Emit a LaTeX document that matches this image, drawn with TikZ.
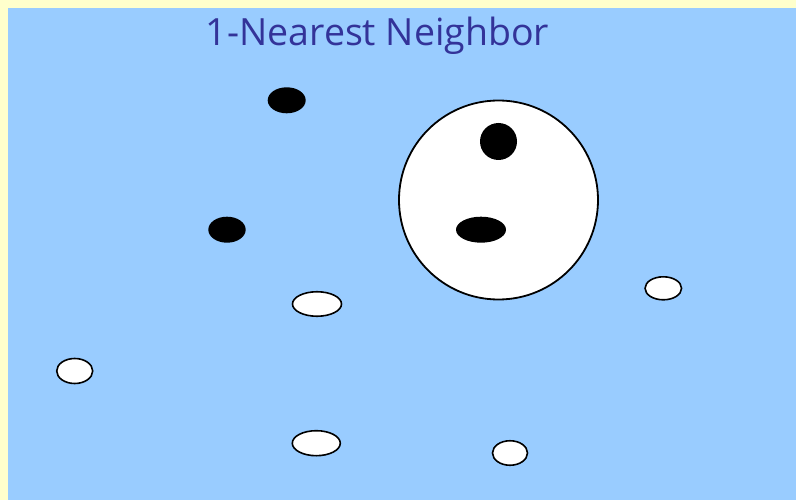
\documentclass[tikz,border=0pt]{standalone}
\usepackage{fontspec}
\setmainfont{Open Sans}
\usetikzlibrary{shapes.geometric}
\definecolor{paper}{HTML}{FFFFCC}
\definecolor{sky}{HTML}{99CCFF}
\definecolor{titleblue}{HTML}{333399}
\begin{document}
\begin{tikzpicture}[
    x=1pt, y=-1pt,
    blackpt/.style={ellipse, fill=black, inner sep=0pt},
    whitept/.style={ellipse, fill=white, draw=black, line width=1.6pt, inner sep=0pt},
    title/.style={font=\fontsize{37.5}{42}\selectfont, text=titleblue}
]

% Background
\fill[paper] (0,0) rectangle (796,500);
\fill[sky] (8,8) rectangle (796,500);
\useasboundingbox (0,0) rectangle (796,500);

% Title
\node[title] (title) at (377.5,36) {1-Nearest Neighbor};

% Neighbourhood circle
\node[circle, fill=white, draw=black, line width=1.8pt, minimum size=199pt, inner sep=0pt] (hood) at (498.5,200) {};

% Black class
\node[blackpt, minimum width=38pt, minimum height=26pt] (b1) at (286.7,100.3) {};
\node[blackpt, minimum width=37.4pt, minimum height=26pt] (b2) at (227,229.7) {};
\node[blackpt, minimum width=37pt, minimum height=37pt] (b3) at (498.5,141.5) {};
\node[blackpt, minimum width=50pt, minimum height=26pt] (query) at (481,229.7) {};

% White class
\node[whitept, minimum width=49pt, minimum height=24.5pt] (w1) at (317,304) {};
\node[whitept, minimum width=36.5pt, minimum height=23pt] (w2) at (663.3,288.3) {};
\node[whitept, minimum width=36pt, minimum height=25pt] (w3) at (74.7,371) {};
\node[whitept, minimum width=48pt, minimum height=25pt] (w4) at (316.3,443.2) {};
\node[whitept, minimum width=35pt, minimum height=24.5pt] (w5) at (510,453) {};

\end{tikzpicture}
\end{document}
